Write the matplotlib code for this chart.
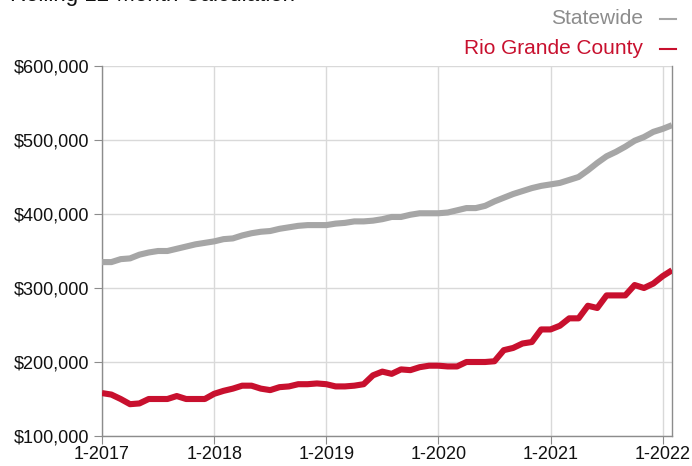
import numpy as np
import matplotlib as mpl
import matplotlib.pyplot as plt
from matplotlib.lines import Line2D
from matplotlib.ticker import FuncFormatter

mpl.rc('font', family=['Liberation Sans', 'DejaVu Sans'])

# Monthly rolling 12-month median sales price, 1-2017 .. 2-2022
statewide = [335, 335, 339, 340, 345, 348, 350, 350, 353, 356, 359, 361,
             363, 366, 367, 371, 374, 376, 377, 380, 382, 384, 385, 385,
             385, 387, 388, 390, 390, 391, 393, 396, 396, 399, 401, 401,
             401, 402, 405, 408, 408, 411, 417, 422, 427, 431, 435, 438,
             440, 442, 446, 450, 459, 469, 478, 484, 491, 499, 504, 511,
             515, 520]
rio_grande = [158, 156, 150, 143, 144, 150, 150, 150, 154, 150, 150, 150,
              157, 161, 164, 168, 168, 164, 162, 166, 167, 170, 170, 171,
              170, 167, 167, 168, 170, 182, 187, 184, 190, 189, 193, 195,
              195, 194, 194, 200, 200, 200, 201, 216, 219, 225, 227, 244,
              244, 249, 259, 259, 276, 273, 290, 290, 290, 304, 300, 306,
              316, 324]
series_names = ['Statewide', 'Rio Grande County']
year_labels = ['1-2017', '1-2018', '1-2019', '1-2020', '1-2021', '1-2022']

gray = '#a6a6a6'
red = '#c8102e'

W, H = 692, 466
months = np.arange(len(statewide))
fig = plt.figure(figsize=(W/100, H/100), dpi=100)
ax = fig.add_axes([102/W, 1 - 436/H, 570/W, 370/H])

ax.plot(months, np.array(statewide)*1000, color=gray, lw=4.4, solid_capstyle='butt', zorder=3)
ax.plot(months, np.array(rio_grande)*1000, color=red, lw=4.4, solid_capstyle='butt', zorder=3)

ax.set_xlim(0, 61)
ax.set_ylim(100000, 600000)
ax.set_xticks(np.arange(0, 61, 12))
ax.set_xticklabels(year_labels)
ax.set_yticks(np.arange(100000, 600001, 100000))
ax.yaxis.set_major_formatter(FuncFormatter(lambda v, p: '${:,.0f}'.format(v)))

ax.grid(True, color='#d9d9d9', lw=1)
ax.set_axisbelow(True)
for side in ['left', 'bottom', 'right']:
    ax.spines[side].set_color('#8c8c8c')
    ax.spines[side].set_linewidth(1)
ax.spines['top'].set_visible(False)
ax.tick_params(axis='both', length=6, color='#8c8c8c', labelsize=13, labelcolor='#111111')
ax.tick_params(axis='y', pad=3)
ax.tick_params(axis='x', pad=1)

# title sits partly above the top edge, as in the source
fig.text(10/W, 1 - 1/H, 'Rolling 12-Month Calculation', fontsize=16,
         color='#111111', ha='left', va='baseline')

# legend: right-aligned names with a short dash after each
legend_rows = [(series_names[0], '#8c8c8c', gray, 18), (series_names[1], red, red, 48)]
for name, tcolor, lcolor, ypix in legend_rows:
    fig.text(643/W, 1 - ypix/H, name, fontsize=15, color=tcolor, ha='right', va='center')
    fig.add_artist(Line2D([660/W, 676/W], [1 - (ypix + 1)/H] * 2, color=lcolor, lw=1.5,
                          transform=fig.transFigure))

fig.savefig('out.png', dpi=100)
